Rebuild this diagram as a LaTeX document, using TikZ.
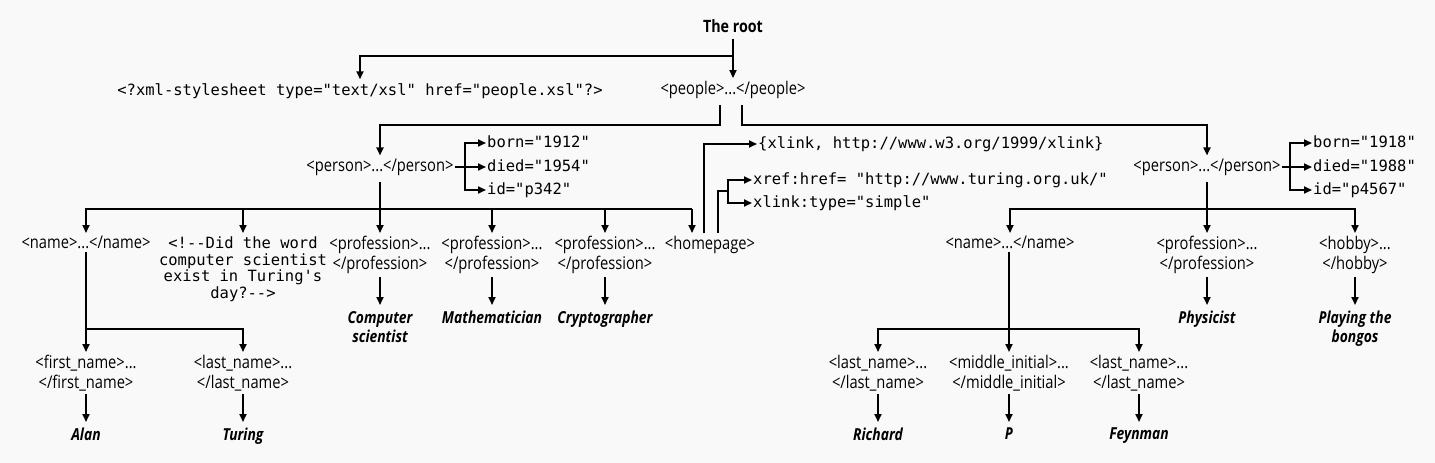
\documentclass[tikz,border=0pt]{standalone}
\usepackage{fontspec}
\usetikzlibrary{arrows.meta}
\newfontfamily\condf[FakeStretch=0.84]{Open Sans}
\newfontfamily\monof{DejaVu Sans Mono}
\definecolor{bg}{RGB}{249,249,249}
\begin{document}
\begin{tikzpicture}[x=1pt,y=-1pt,
  ln/.style={line width=1.8pt},
  arr/.style={ln,-{Triangle[length=8pt,width=7pt]}},
  tag/.style={font=\condf\fontsize{17.5}{20}\selectfont, inner xsep=1pt, inner ysep=3pt, align=center},
  code/.style={font=\monof\fontsize{15.5}{16.5}\selectfont, inner xsep=1pt, inner ysep=4pt, align=center},
  attr/.style={font=\monof\fontsize{15.5}{16.5}\selectfont, inner xsep=1pt, inner ysep=2pt, anchor=west, text height=11pt, text depth=3pt},
  val/.style={font=\condf\bfseries\itshape\fontsize{16.5}{19}\selectfont, inner xsep=1pt, inner ysep=6pt, align=center, anchor=north},
  kid/.style={tag, anchor=north},
]
\fill[bg] (0,0) rectangle (1435,463);
\useasboundingbox (0,0) rectangle (1435,463);

% top
\node[tag, font=\condf\bfseries\fontsize{17}{20}\selectfont] (root) at (733,26) {The root};
\node[code] (style) at (360,91) {<?xml-stylesheet type="text/xsl" href="people.xsl"?>};
\node[tag] (people) at (733,90) {<people>...</people>};
\coordinate (j0) at (733,56);
\draw[arr, shorten <=3pt] (root) -- (people);
\draw[arr] (j0) -| (style);

% people branches
\coordinate (pL) at (720,125);
\coordinate (pR) at (742,125);
\node[tag] (person1) at (380,167) {<person>...</person>};
\node[tag] (person2) at (1207,167) {<person>...</person>};
\draw[arr, shorten <=3pt] (people.south -| pL) -- (pL) -| (person1);
\draw[arr, shorten <=3pt] (people.south -| pR) -- (pR) -| (person2);

% attributes person1
\node[attr] (born1) at (486,143) {born="1912"};
\node[attr] (died1) at (486,167) {died="1954"};
\node[attr] (id1) at (486,190) {id="p342"};
\coordinate (a1) at (465,167);
\draw[ln] (person1.east) -- (a1);
\draw[arr] (a1) |- (born1);
\draw[arr] (a1) |- (died1);
\draw[arr] (a1) |- (id1);

% attributes person2
\node[attr] (born2) at (1312,143) {born="1918"};
\node[attr] (died2) at (1312,167) {died="1988"};
\node[attr] (id2) at (1312,190) {id="p4567"};
\coordinate (a2) at (1290,167);
\draw[ln] (person2.east) -- (a2);
\draw[arr] (a2) |- (born2);
\draw[arr] (a2) |- (died2);
\draw[arr] (a2) |- (id2);

% children of person1
\node[kid] (name1) at (86,233) {<name>...</name>};
\node[code, anchor=north] (comment) at (243,233) {<!--Did the word\\computer scientist\\exist in Turing's\\day?-->};
\node[kid] (prof1) at (380,233) {<profession>...\\</profession>};
\node[kid] (prof2) at (492,233) {<profession>...\\</profession>};
\node[kid] (prof3) at (605,233) {<profession>...\\</profession>};
\node[kid] (home) at (710,233) {<homepage>};
\coordinate (c1) at (380,209);
\coordinate (hp) at (692,209);
\draw[ln, shorten <=3pt] (person1) -- (c1);
\draw[arr] (c1) -| (name1);
\draw[arr] (c1) -| (comment);
\draw[arr] (c1) -- (prof1);
\draw[arr] (c1) -| (prof2);
\draw[arr] (c1) -| (prof3);
\draw[ln] (c1) -- (hp);
\draw[arr] (hp) -- (hp |- home.north);

% homepage links
\node[attr] (xlink) at (757,144) {\{xlink, http://www.w3.org/1999/xlink\}};
\node[attr] (xref) at (752,180) {xref:href= "http://www.turing.org.uk/"};
\node[attr] (xtype) at (752,203) {xlink:type="simple"};
\coordinate (h1) at (704,144);
\coordinate (h2) at (718,191);
\coordinate (h3) at (728,191);
\draw[arr] (home.north -| h1) |- (xlink);
\draw[ln] (home.north -| h2) -- (h2) -- (h3);
\draw[arr] (h3) |- (xref);
\draw[arr] (h3) |- (xtype);

% children of person2
\node[kid] (name2) at (1010,233) {<name>...</name>};
\node[kid] (prof4) at (1207,233) {<profession>...\\</profession>};
\node[kid] (hobby) at (1355,233) {<hobby>...\\</hobby>};
\coordinate (c2) at (1207,209);
\draw[ln, shorten <=3pt] (person2) -- (c2);
\draw[arr] (c2) -| (name2);
\draw[arr] (c2) -- (prof4);
\draw[arr] (c2) -| (hobby);

% values of professions / hobby
\node[val] (v1) at (380,305) {Computer\\scientist};
\node[val] (v2) at (492,305) {Mathematician};
\node[val] (v3) at (605,305) {Cryptographer};
\node[val] (v4) at (1207,305) {Physicist};
\node[val] (v5) at (1355,305) {Playing the\\bongos};
\draw[arr] (prof1) -- (v1);
\draw[arr] (prof2) -- (v2);
\draw[arr] (prof3) -- (v3);
\draw[arr] (prof4) -- (v4);
\draw[arr] (hobby) -- (v5);

% left name
\node[kid] (first) at (86,352) {<first\_name>...\\</first\_name>};
\node[kid] (last1) at (243,352) {<last\_name>...\\</last\_name>};
\coordinate (n1) at (86,329);
\draw[ln] (name1) -- (n1);
\draw[arr] (n1) -- (first);
\draw[arr] (n1) -| (last1);
\node[val] (alan) at (86,422) {Alan};
\node[val] (turing) at (243,422) {Turing};
\draw[arr] (first) -- (alan);
\draw[arr] (last1) -- (turing);

% right name
\node[kid] (last2) at (878,352) {<last\_name>...\\</last\_name>};
\node[kid] (middle) at (1009,352) {<middle\_initial>...\\</middle\_initial>};
\node[kid] (last3) at (1139,352) {<last\_name>...\\</last\_name>};
\coordinate (n2) at (1009,329);
\draw[ln] (name2.south -| n2) -- (n2);
\draw[arr] (n2) -| (last2);
\draw[arr] (n2) -- (middle);
\draw[arr] (n2) -| (last3);
\node[val] (richard) at (878,422) {Richard};
\node[val] (pinit) at (1009,422) {P};
\node[val] (feynman) at (1139,422) {Feynman};
\draw[arr] (last2) -- (richard);
\draw[arr] (middle) -- (pinit);
\draw[arr] (last3) -- (feynman);
\end{tikzpicture}
\end{document}
